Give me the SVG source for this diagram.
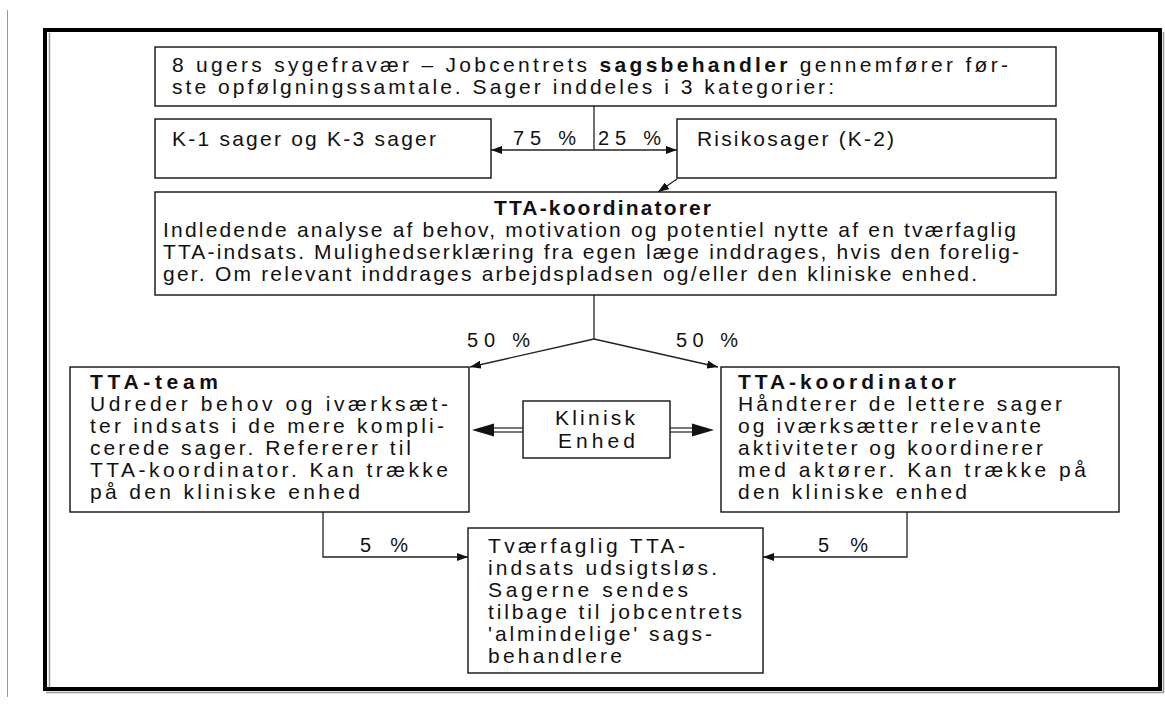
<svg xmlns="http://www.w3.org/2000/svg" width="1165" height="706" viewBox="0 0 1165 706">
<style>
.box{fill:#fff;stroke:#111;stroke-width:1.4}
.t{font-family:"Liberation Sans",Arial,sans-serif;font-size:21px;fill:#111}
.l{font-family:"Liberation Sans",Arial,sans-serif;font-size:20px;fill:#111}
.b{font-weight:bold}
.ln{fill:none;stroke:#222;stroke-width:1.3}
.dl{fill:none;stroke:#222;stroke-width:1.2}
</style>
<defs>
<marker id="ah" markerUnits="userSpaceOnUse" markerWidth="11" markerHeight="8" refX="11" refY="4" orient="auto">
<path d="M0,0 L11,4 L0,8 z" fill="#111"/>
</marker>
</defs>
<rect width="1165" height="706" fill="#fff"/>
<line x1="7.5" y1="10" x2="7.5" y2="697" stroke="#999" stroke-width="1"/>
<g id="frame">
<rect x="45" y="30" width="1115" height="659" fill="none" stroke="#000" stroke-width="4"/>
<line x1="49.5" y1="33" x2="49.5" y2="687" stroke="#999" stroke-width="1.5"/>
<line x1="1163.5" y1="32" x2="1163.5" y2="693" stroke="#999" stroke-width="1.5"/>
<line x1="46" y1="692.5" x2="1164" y2="692.5" stroke="#999" stroke-width="1.5"/>
</g>
<g id="connectors">
<polyline class="ln" points="594,106 594,150"/>
<line class="ln" x1="594" y1="150" x2="491" y2="150" marker-end="url(#ah)"/>
<line class="ln" x1="594" y1="150" x2="677" y2="150" marker-end="url(#ah)"/>
<line class="ln" x1="677" y1="179" x2="658" y2="192" marker-end="url(#ah)"/>
<polyline class="ln" points="594,295 594,339"/>
<line class="ln" x1="594" y1="339" x2="470" y2="367" marker-end="url(#ah)"/>
<line class="ln" x1="594" y1="339" x2="718" y2="367" marker-end="url(#ah)"/>
<line class="dl" x1="493" y1="428" x2="523" y2="428"/>
<line class="dl" x1="493" y1="432" x2="523" y2="432"/>
<path d="M472,430 L494,423.5 L494,436.5 z" fill="#111"/>
<line class="dl" x1="670" y1="428" x2="693" y2="428"/>
<line class="dl" x1="670" y1="432" x2="693" y2="432"/>
<path d="M714,430 L692,423.5 L692,436.5 z" fill="#111"/>
<polyline class="ln" points="323,512 323,557 468,557" marker-end="url(#ah)"/>
<polyline class="ln" points="907,512 907,557 763,557" marker-end="url(#ah)"/>
<text class="l" x="513" y="145" textLength="63" lengthAdjust="spacing">75 %</text>
<text class="l" x="598" y="145" textLength="63" lengthAdjust="spacing">25 %</text>
<text class="l" x="467" y="347" textLength="63" lengthAdjust="spacing">50 %</text>
<text class="l" x="676" y="347" textLength="62" lengthAdjust="spacing">50 %</text>
<text class="l" x="360" y="552" textLength="48" lengthAdjust="spacing">5 %</text>
<text class="l" x="818" y="552" textLength="50" lengthAdjust="spacing">5 %</text>
</g>
<g id="n-start">
<rect class="box" x="155" y="47" width="901" height="59"/>
<text class="t" x="172" y="72" textLength="836" lengthAdjust="spacing">8 ugers sygefravær – Jobcentrets <tspan class="b">sagsbehandler</tspan> gennemfører før-</text>
<text class="t" x="172" y="94" textLength="662" lengthAdjust="spacing">ste opfølgningssamtale. Sager inddeles i 3 kategorier:</text>
</g>
<g id="n-k1k3">
<rect class="box" x="155" y="119" width="336" height="59"/>
<text class="t" x="172" y="146" textLength="264" lengthAdjust="spacing">K-1 sager og K-3 sager</text>
</g>
<g id="n-k2">
<rect class="box" x="677" y="119" width="379" height="59"/>
<text class="t" x="697" y="146" textLength="197" lengthAdjust="spacing">Risikosager (K-2)</text>
</g>
<g id="n-koordinatorer">
<rect class="box" x="155" y="192" width="901" height="103"/>
<text class="t b" x="494" y="215" textLength="217" lengthAdjust="spacing">TTA-koordinatorer</text>
<text class="t" x="163" y="237" textLength="853" lengthAdjust="spacing">Indledende analyse af behov, motivation og potentiel nytte af en tværfaglig</text>
<text class="t" x="163" y="259" textLength="856" lengthAdjust="spacing">TTA-indsats. Mulighedserklæring fra egen læge inddrages, hvis den forelig-</text>
<text class="t" x="163" y="281" textLength="814" lengthAdjust="spacing">ger. Om relevant inddrages arbejdspladsen og/eller den kliniske enhed.</text>
</g>
<g id="n-team">
<rect class="box" x="70" y="367" width="399" height="145"/>
<text class="t b" x="90" y="389" textLength="128" lengthAdjust="spacing">TTA-team</text>
<text class="t" x="90" y="411" textLength="358" lengthAdjust="spacing">Udreder behov og iværksæt-</text>
<text class="t" x="90" y="433" textLength="354" lengthAdjust="spacing">ter indsats i de mere kompli-</text>
<text class="t" x="90" y="455" textLength="321" lengthAdjust="spacing">cerede sager. Refererer til</text>
<text class="t" x="90" y="477" textLength="358" lengthAdjust="spacing">TTA-koordinator. Kan trække</text>
<text class="t" x="90" y="499" textLength="270" lengthAdjust="spacing">på den kliniske enhed</text>
</g>
<g id="n-klinisk">
<rect class="box" x="523" y="401" width="147" height="57"/>
<text class="t" x="555" y="425" textLength="80" lengthAdjust="spacing">Klinisk</text>
<text class="t" x="558" y="448" textLength="77" lengthAdjust="spacing">Enhed</text>
</g>
<g id="n-koordinator">
<rect class="box" x="721" y="367" width="398" height="145"/>
<text class="t b" x="738" y="389" textLength="218" lengthAdjust="spacing">TTA-koordinator</text>
<text class="t" x="738" y="411" textLength="324" lengthAdjust="spacing">Håndterer de lettere sager</text>
<text class="t" x="738" y="433" textLength="303" lengthAdjust="spacing">og iværksætter relevante</text>
<text class="t" x="738" y="455" textLength="305" lengthAdjust="spacing">aktiviteter og koordinerer</text>
<text class="t" x="738" y="477" textLength="348" lengthAdjust="spacing">med aktører. Kan trække på</text>
<text class="t" x="738" y="499" textLength="229" lengthAdjust="spacing">den kliniske enhed</text>
</g>
<g id="n-udsigtslos">
<rect class="box" x="468" y="528" width="295" height="145"/>
<text class="t" x="488" y="553" textLength="197" lengthAdjust="spacing">Tværfaglig TTA-</text>
<text class="t" x="488" y="575" textLength="229" lengthAdjust="spacing">indsats udsigtsløs.</text>
<text class="t" x="488" y="597" textLength="200" lengthAdjust="spacing">Sagerne sendes</text>
<text class="t" x="488" y="619" textLength="254" lengthAdjust="spacing">tilbage til jobcentrets</text>
<text class="t" x="488" y="641" textLength="224" lengthAdjust="spacing">'almindelige' sags-</text>
<text class="t" x="488" y="663" textLength="134" lengthAdjust="spacing">behandlere</text>
</g>
</svg>
